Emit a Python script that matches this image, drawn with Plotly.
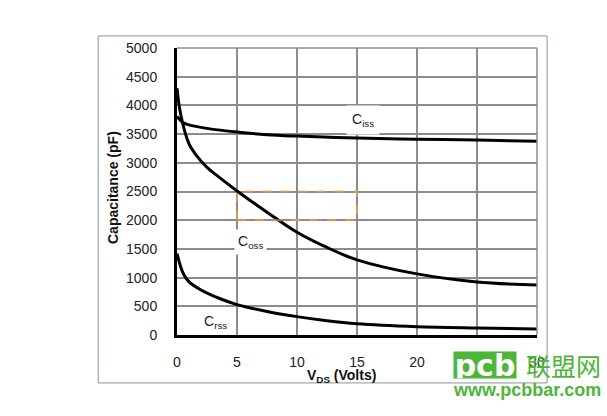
import plotly.graph_objects as go

# Data
vds = [0, 0.5, 1, 2.5, 5, 7.5, 10, 15, 20, 25, 30]
ciss = [3810, 3700, 3660, 3600, 3535, 3490, 3465, 3430, 3412, 3397, 3375]

vds_oss = [0, 0.3, 1, 1.5, 2.5, 3.5, 5, 7.5, 10, 12.5, 15, 20, 25, 30]
coss = [4300, 3850, 3330, 3160, 2920, 2750, 2510, 2140, 1790, 1525, 1310, 1065, 925, 870]

vds_rss = [0, 0.5, 1, 2, 3.5, 5, 7.5, 10, 12.5, 15, 20, 25, 30]
crss = [1420, 1080, 925, 785, 640, 530, 410, 320, 248, 195, 145, 122, 105]

x_ticks = [0, 5, 10, 15, 20, 25, 30]
y_ticks = [0, 500, 1000, 1500, 2000, 2500, 3000, 3500, 4000, 4500, 5000]

FONT = "Liberation Sans, Arial, sans-serif"

fig = go.Figure()
for xs, ys in [(vds, ciss), (vds_oss, coss), (vds_rss, crss)]:
    fig.add_trace(go.Scatter(x=xs, y=ys, mode="lines",
                             line=dict(color="black", width=3, shape="spline", smoothing=1.0),
                             showlegend=False, hoverinfo="skip"))

L, R, T, B, W, H = 177, 70, 48, 81, 607, 416
fig.update_layout(
    width=W, height=H,
    margin=dict(l=L, r=R, t=T, b=B),
    paper_bgcolor="white", plot_bgcolor="white",
    font=dict(family=FONT, size=14, color="#222"),
    xaxis=dict(range=[0, 30], tickvals=x_ticks, showgrid=True, gridcolor="#8c8c8c", gridwidth=1.5,
               showline=True, linecolor="black", linewidth=3, zeroline=False,
               ticks="", ticklabelstandoff=12, tickfont=dict(size=14, color="#222")),
    yaxis=dict(range=[0, 5000], tickvals=y_ticks, showgrid=True, gridcolor="#8c8c8c", gridwidth=1.5,
               showline=True, linecolor="black", linewidth=3, zeroline=False,
               ticks="", ticklabelstandoff=14, tickfont=dict(size=14, color="#222")),
)

shapes = [
    # outer frame
    dict(type="rect", xref="paper", yref="paper", x0=-0.219, x1=1.028, y0=-0.167, y1=1.042,
         line=dict(color="#8a9396", width=1), layer="below"),
    # top and right plot borders (gray)
    dict(type="line", xref="paper", yref="paper", x0=0, x1=1, y0=1, y1=1,
         line=dict(color="#8c8c8c", width=1.5)),
    dict(type="line", xref="paper", yref="paper", x0=1, x1=1, y0=0, y1=1,
         line=dict(color="#8c8c8c", width=1.5)),
    # faint orange dashed rectangle
    dict(type="rect", xref="x", yref="y", x0=5, x1=15, y0=2000, y1=2500,
         line=dict(color="#f0a050", width=2, dash="dash"), opacity=0.7),
]
fig.update_layout(shapes=shapes)

annots = [
    dict(x=15.5, y=3750, xref="x", yref="y", text="C<sub>iss</sub>", showarrow=False,
         font=dict(size=14, color="#222"), bgcolor="white", borderpad=5),
    dict(x=6.1, y=1620, xref="x", yref="y", text="C<sub>oss</sub>", showarrow=False,
         font=dict(size=14, color="#222"), bgcolor="white", borderpad=3),
    dict(x=3.2, y=230, xref="x", yref="y", text="C<sub>rss</sub>", showarrow=False,
         font=dict(size=14, color="#222")),
    # axis titles (pixel positions, converted below)
    dict(x=113, y=188, text="<b>Capacitance (pF)</b>", showarrow=False,
         textangle=-90, font=dict(size=14, color="#111")),
    dict(x=341, y=376, text="<b>V<sub>DS</sub> (Volts)</b>", showarrow=False,
         font=dict(size=14, color="#111")),
    # watermark
    dict(x=485, y=365, text="<b>pcb</b>", showarrow=False, bgcolor="#4db63a",
         font=dict(size=30, color="white", family="DejaVu Sans, sans-serif"),
         width=62, height=26, borderpad=0),
    dict(x=563, y=365, text="联盟网", showarrow=False,
         font=dict(size=25, color="#4db63a", family="Noto Sans CJK SC")),
    dict(x=527, y=390, text="<b>www.pcbbar.com</b>", showarrow=False,
         font=dict(size=18, color="#4db63a", family="Liberation Sans, Arial")),
]
pw, ph = W - L - R, H - T - B
for a in annots:
    if a.get("xref") is None:
        a["xref"] = "paper"; a["yref"] = "paper"
        a["x"] = (a["x"] - L) / pw
        a["y"] = (H - B - a["y"]) / ph
    a["xanchor"] = "center"
    a["yanchor"] = "middle"
fig.update_layout(annotations=annots)

fig.write_html("out.html", config={"displayModeBar": False},
               post_script="document.body.style.margin='0';document.body.style.padding='0';")
